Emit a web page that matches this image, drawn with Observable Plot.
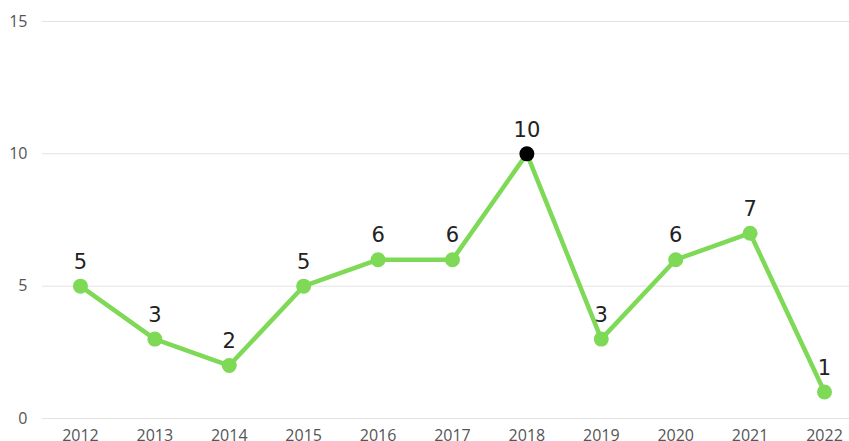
<!DOCTYPE html>
<html>
<head>
<meta charset="utf-8">
<script src="https://cdn.jsdelivr.net/npm/d3@7"></script>
<script src="https://cdn.jsdelivr.net/npm/@observablehq/plot@0.6"></script>
<style>
  html, body { margin: 0; padding: 0; background: #fff; }
  #chart { width: 849px; height: 441px; overflow: hidden; }
</style>
</head>
<body>
<div id="chart"></div>
<script>
const years = [2012, 2013, 2014, 2015, 2016, 2017, 2018, 2019, 2020, 2021, 2022];
const counts = [5, 3, 2, 5, 6, 6, 10, 3, 6, 7, 1];
const highlightYear = 2018;
const yTicks = [0, 5, 10, 15];

const data = years.map((y, i) => ({year: y, value: counts[i]}));
const green = "#7ed957";

const chart = Plot.plot({
  width: 849,
  height: 441,
  marginLeft: 42,
  marginRight: 0,
  marginTop: 21,
  marginBottom: 23,
  style: {fontFamily: "'Open Sans', sans-serif", background: "#fff", overflow: "visible"},
  x: {domain: [2011.49, 2022.336], label: null},
  y: {domain: [0, 15], label: null},
  marks: [
    Plot.ruleY(yTicks, {stroke: "#e2e2e2", strokeWidth: 1}),
    Plot.axisX({ticks: years, tickFormat: d => String(d), tickSize: 0, tickPadding: 11, fontSize: 16, fill: "#555", label: null}),
    Plot.axisY({ticks: yTicks, tickSize: 0, tickPadding: 15, fontSize: 16, fill: "#555", label: null}),
    Plot.line(data, {x: "year", y: "value", stroke: green, strokeWidth: 4.5}),
    Plot.dot(data, {x: "year", y: "value", r: 7.5, fill: d => d.year === highlightYear ? "#000" : green, stroke: null}),
    Plot.text(data, {x: "year", y: "value", text: d => String(d.value), dy: -24, fontSize: 21, fill: "#222", fontFamily: "'DejaVu Sans', sans-serif"})
  ]
});
document.getElementById("chart").appendChild(chart);
</script>
</body>
</html>
